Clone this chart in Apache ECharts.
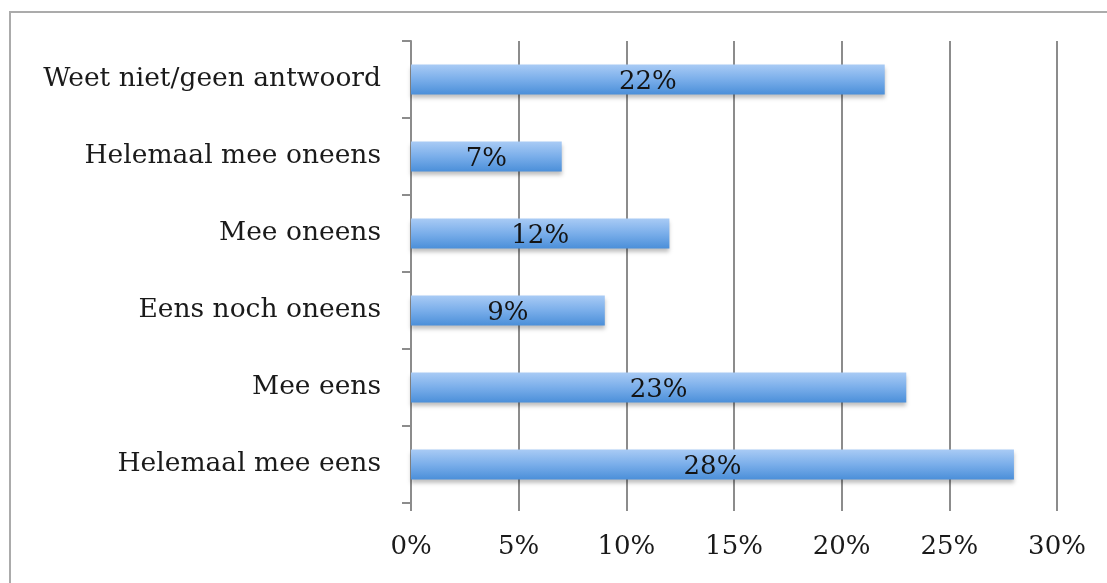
<!DOCTYPE html>
<html>
<head>
<meta charset="utf-8">
<script src="https://cdn.jsdelivr.net/npm/echarts@6/dist/echarts.min.js"></script>
<style>
  html, body { margin: 0; padding: 0; background: #fff; }
  #chart { width: 1107px; height: 583px; }
</style>
</head>
<body>
<div id="chart"></div>
<script>
// Answers, bottom to top on the category axis
var categories = [
  'Helemaal mee eens',
  'Mee eens',
  'Eens noch oneens',
  'Mee oneens',
  'Helemaal mee oneens',
  'Weet niet/geen antwoord'
];
// Share of respondents, in percent
var shares = [28, 23, 9, 12, 7, 22];
var tickLabels = ['0%', '5%', '10%', '15%', '20%', '25%', '30%'];

var chart = echarts.init(document.getElementById('chart'));
var fontFamily = '"DejaVu Serif", serif';
var gridColor = '#8c8c8c';

chart.setOption({
  animation: false,
  backgroundColor: '#ffffff',
  graphic: [{
    type: 'rect',
    shape: { x: 10, y: 12, width: 1120, height: 600 },
    style: { fill: 'none', stroke: '#ababab', lineWidth: 2 },
    silent: true,
    z: -10
  }],
  grid: { left: 411, right: 50, top: 41, bottom: 80, containLabel: false },
  xAxis: {
    type: 'value',
    min: 0,
    max: 30,
    interval: 5,
    axisLine: { show: false },
    axisTick: { show: true, length: 8, lineStyle: { color: gridColor, width: 2 } },
    splitLine: { show: true, lineStyle: { color: gridColor, width: 2 } },
    axisLabel: {
      margin: 31,
      fontFamily: fontFamily,
      fontSize: 26,
      color: '#1a1a1a',
      formatter: function (v) { return tickLabels[v / 5]; }
    }
  },
  yAxis: {
    type: 'category',
    data: categories,
    axisLine: { show: true, lineStyle: { color: gridColor, width: 2 } },
    axisTick: { show: true, length: 9, lineStyle: { color: gridColor, width: 2 } },
    axisLabel: {
      margin: 30,
      fontFamily: fontFamily,
      fontSize: 26.5,
      color: '#1a1a1a'
    }
  },
  series: [{
    type: 'bar',
    data: shares,
    barWidth: 30,
    itemStyle: {
      color: new echarts.graphic.LinearGradient(0, 0, 0, 1, [
        { offset: 0, color: '#a9cbf5' },
        { offset: 0.5, color: '#7aaeea' },
        { offset: 1, color: '#4b8fd9' }
      ]),
      shadowColor: 'rgba(0,0,0,0.25)',
      shadowBlur: 4,
      shadowOffsetY: 3
    },
    label: {
      show: true,
      position: 'inside',
      offset: [0, 3],
      fontFamily: fontFamily,
      fontSize: 26,
      color: '#141414',
      formatter: function (p) { return p.value + '%'; }
    }
  }]
});
</script>
</body>
</html>
